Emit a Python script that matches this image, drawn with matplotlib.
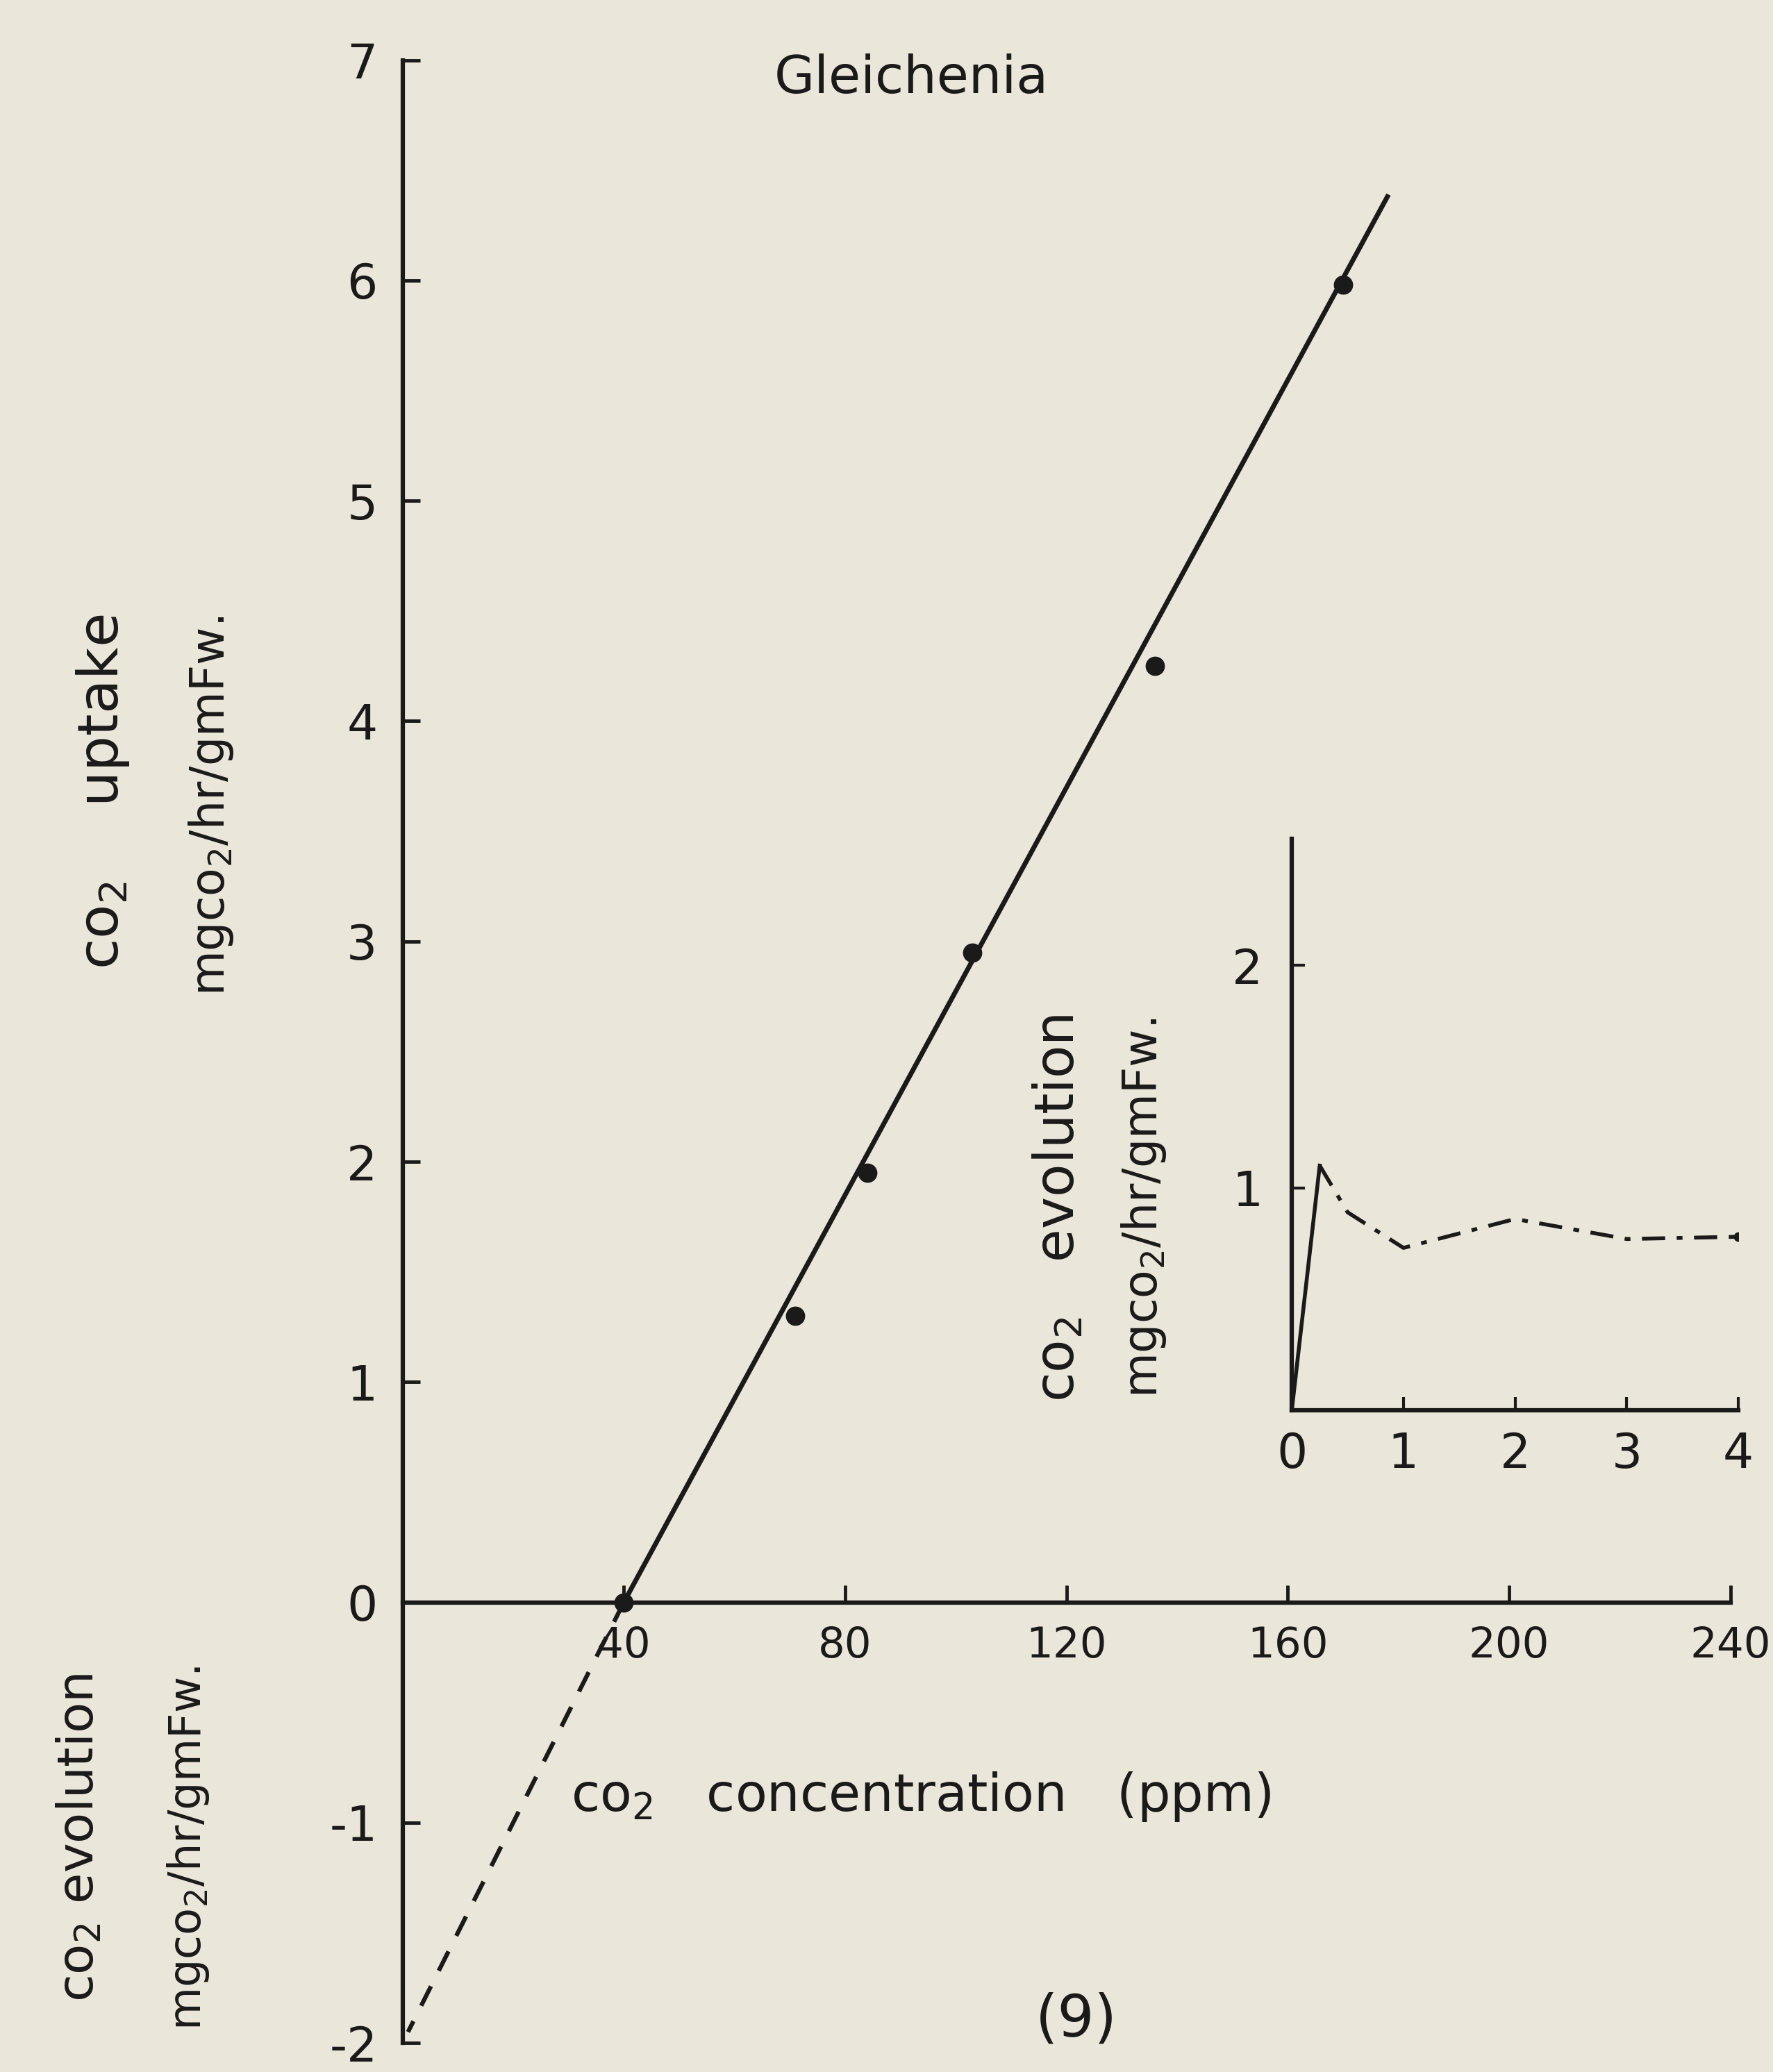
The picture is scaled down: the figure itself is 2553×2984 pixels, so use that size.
import matplotlib
matplotlib.use("Agg")
from matplotlib import pyplot as plt

# main panel: CO2 uptake vs CO2 concentration
conc = [40, 71, 84, 103, 136, 170]
uptake = [0.0, 1.30, 1.95, 2.95, 4.25, 5.98]

# fitted line and its dashed extrapolation below zero
fit_x = [40, 178]
fit_y = [0.0, 6.38]
ext_x = [40, 1]
ext_y = [0.0, -1.95]

x_ticks = [40, 80, 120, 160, 200, 240]
y_ticks = [7, 6, 5, 4, 3, 2, 1, 0, -1, -2]

# inset: CO2 evolution
ins_solid_x = [0.0, 0.25]
ins_solid_y = [0.0, 1.10]
ins_x = [0.25, 0.5, 1.0, 2.0, 3.0, 4.0]
ins_y = [1.10, 0.89, 0.73, 0.86, 0.77, 0.78]
ins_x_ticks = [0, 1, 2, 3, 4]
ins_y_ticks = [1, 2]

paper = '#ebe6da'
ink = '#1a1a1a'
plt.rcParams['font.family'] = ['DejaVu Sans']

fig = plt.figure(figsize=(25.53, 29.84), dpi=100, facecolor=paper)

ax = fig.add_axes([0.227, 0.014, 0.749, 0.957])
ax.set_facecolor('none')
ax.plot(fit_x, fit_y, color=ink, lw=5)
ax.plot(ext_x, ext_y, color=ink, lw=4.5, ls=(0, (5, 4)))
ax.plot(conc, uptake, 'o', color=ink, ms=19)
ax.set_xlim(0, 240)
ax.set_ylim(-2, 7)
ax.spines['top'].set_visible(False)
ax.spines['right'].set_visible(False)
ax.spines['bottom'].set_position(('data', 0))
for s in ['bottom', 'left']:
    ax.spines[s].set_linewidth(4.5)
    ax.spines[s].set_color(ink)
ax.set_xticks(x_ticks)
ax.set_yticks(y_ticks)
ax.set_yticklabels([str(v) for v in y_ticks])
ax.tick_params(axis='both', direction='in', length=18, width=3.5, colors=ink)
ax.tick_params(axis='x', pad=24, labelsize=44)
ax.tick_params(axis='y', pad=26, labelsize=50)

fig.text(0.514, 0.962, 'Gleichenia', fontsize=54, ha='center', va='center', color=ink)
fig.text(0.322, 0.133, 'co$_2$   concentration   (ppm)', fontsize=54, ha='left', va='center', color=ink)
fig.text(0.607, 0.025, '(9)', fontsize=60, ha='center', va='center', color=ink)

fig.text(0.058, 0.618, 'co$_2$    uptake', fontsize=58, rotation=90, ha='center', va='center', color=ink)
fig.text(0.119, 0.611, 'mgco$_2$/hr/gmFw.', fontsize=48, rotation=90, ha='center', va='center', color=ink)
fig.text(0.045, 0.113, 'co$_2$ evolution', fontsize=52, rotation=90, ha='center', va='center', color=ink)
fig.text(0.106, 0.108, 'mgco$_2$/hr/gmFw.', fontsize=46, rotation=90, ha='center', va='center', color=ink)

# inset
ins = fig.add_axes([0.7286, 0.3194, 0.2519, 0.2758])
ins.set_facecolor('none')
ins.plot(ins_solid_x, ins_solid_y, color=ink, lw=4)
ins.plot(ins_x, ins_y, color=ink, lw=4, ls=(0, (6, 3, 1.5, 3)))
ins.plot(ins_x[-1:], ins_y[-1:], 'o', color=ink, ms=9)
ins.set_xlim(0, 4)
ins.set_ylim(0, 2.57)
ins.spines['top'].set_visible(False)
ins.spines['right'].set_visible(False)
for s in ['bottom', 'left']:
    ins.spines[s].set_linewidth(4.5)
    ins.spines[s].set_color(ink)
ins.set_xticks(ins_x_ticks)
ins.set_yticks(ins_y_ticks)
ins.tick_params(axis='both', direction='in', length=14, width=3, colors=ink, labelsize=50)
ins.tick_params(axis='x', pad=22)
ins.tick_params(axis='y', pad=30)

fig.text(0.597, 0.417, 'co$_2$   evolution', fontsize=56, rotation=90, ha='center', va='center', color=ink)
fig.text(0.645, 0.417, 'mgco$_2$/hr/gmFw.', fontsize=48, rotation=90, ha='center', va='center', color=ink)

fig.savefig('out.png', dpi=100, facecolor=paper)
